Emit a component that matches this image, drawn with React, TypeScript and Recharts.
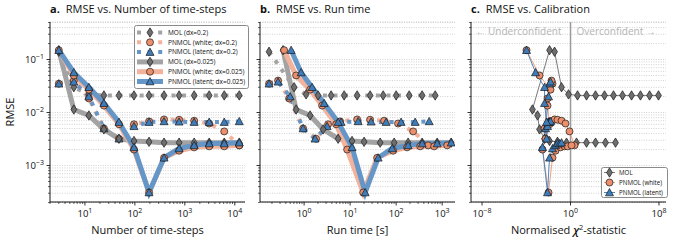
import React from "react";
import { LineChart, Line, XAxis, YAxis, CartesianGrid, Legend, ReferenceLine } from "recharts";

// number of time-steps, same for every run
const steps = [3, 6, 12, 24, 48, 96, 192, 384, 768, 1536, 3072, 6144, 12288];

// RMSE per run (coarse = dx 0.2, fine = dx 0.025)
const rmseMolCoarse = [0.14, 0.03, 0.022, 0.021, 0.021, 0.021, 0.021, 0.021, 0.021, 0.021, 0.021, 0.021, 0.021];
const rmseWhiteCoarse = [0.035, 0.04, 0.0184, 0.005, 0.0032, 0.006, 0.0068, 0.0074, 0.0073, 0.007, 0.0062, 0.0044, 0.0024];
const rmseLatentCoarse = [0.035, 0.038, 0.02, 0.005, 0.0032, 0.0055, 0.0066, 0.0068, 0.0067, 0.0066, 0.0066, 0.0066, 0.0068];
const rmseMolFine = [0.15, 0.0114, 0.0088, 0.0048, 0.0032, 0.0029, 0.0028, 0.0027, 0.0027, 0.0027, 0.0027, 0.0027, 0.0027];
const rmseWhiteFine = [0.15, 0.05, 0.027, 0.0135, 0.006, 0.002, 0.00031, 0.0014, 0.0019, 0.0022, 0.0023, 0.0023, 0.0024];
const rmseLatentFine = [0.15, 0.057, 0.03, 0.015, 0.0066, 0.0022, 0.00031, 0.0014, 0.0021, 0.0024, 0.0026, 0.0026, 0.0027];

// run time [s]
const timeMolCoarse = [0.173, 0.606, 1.105, 2.01, 3.86, 7.41, 14.2, 27.2, 52.2, 100, 192, 367, 705];
const timeWhiteCoarse = [0.173, 0.272, 0.472, 0.951, 1.82, 3.32, 6.06, 14.2, 27.2, 54.8, 110, 234, 496];
const timeLatentCoarse = [0.173, 0.272, 0.496, 0.951, 1.73, 3.16, 6.37, 14.9, 28.6, 60.6, 128, 259, 522];
const timeMolFine = [0.349, 0.67, 1.35, 2.59, 5.48, 11.0, 20.1, 44.9, 90.5, 182, 367, 778, 1570];
const timeWhiteFine = [0.367, 0.67, 1.35, 2.46, 4.96, 8.61, 19.2, 38.6, 86.0, 173, 333, 670, 1285];
const timeLatentFine = [0.522, 0.861, 1.49, 2.72, 5.48, 11.0, 21.2, 40.6, 81.8, 182, 367, 778, 1570];

// normalised chi2 statistic
const chiMolCoarse = [0.036, 0.154, 0.66, 4.3, 28, 182, 1180, 7700, 5e4, 3.3e5, 2.1e6, 1.4e7, 9e7];
const chiWhiteCoarse = [0.0235, 0.019, 0.0083, 0.0045, 0.0055, 0.0083, 0.019, 0.036, 0.066, 0.154, 0.35, 0.81, 2.3];
const chiLatentCoarse = [0.0126, 0.0155, 0.0102, 0.0055, 0.0068, 0.0083, 0.0102, 0.0126, 0.0102, 0.0102, 0.0126, 0.0126, 0.0155];
const chiMolFine = [0.0126, 3.6e-4, 1.04e-3, 1.58e-3, 4.5e-3, 0.0126, 0.066, 0.435, 3.5, 28, 182, 1450, 1.17e4];
const chiWhiteFine = [1.05e-4, 1.58e-3, 0.0155, 0.0083, 0.0126, 0.0029, 0.0102, 0.0235, 0.044, 0.125, 0.288, 0.535, 1.23];
const chiLatentFine = [1.05e-4, 6.9e-4, 0.0045, 0.0045, 0.0068, 0.0029, 0.0083, 0.0126, 0.0235, 0.044, 0.066, 0.102, 0.154];

// ticks
const yMajor = [0.001, 0.01, 0.1];
const yMajorExp = ["\u22123", "\u22122", "\u22121"];
const yMinor = [2e-4, 3e-4, 4e-4, 5e-4, 6e-4, 7e-4, 8e-4, 9e-4, 0.002, 0.003, 0.004, 0.005, 0.006, 0.007, 0.008, 0.009,
  0.02, 0.03, 0.04, 0.05, 0.06, 0.07, 0.08, 0.09, 0.2, 0.3, 0.4, 0.5];
const stepsMajor = [10, 100, 1000, 10000];
const stepsMajorExp = ["1", "2", "3", "4"];
const stepsMinor = [2, 3, 4, 5, 6, 7, 8, 9, 20, 30, 40, 50, 60, 70, 80, 90, 200, 300, 400, 500, 600, 700, 800, 900,
  2000, 3000, 4000, 5000, 6000, 7000, 8000, 9000];
const timeMajor = [1, 10, 100, 1000];
const timeMajorExp = ["0", "1", "2", "3"];
const timeMinor = [0.2, 0.3, 0.4, 0.5, 0.6, 0.7, 0.8, 0.9, 2, 3, 4, 5, 6, 7, 8, 9, 20, 30, 40, 50, 60, 70, 80, 90,
  200, 300, 400, 500, 600, 700, 800, 900];
const chiMajor = [1e-8, 1, 1e8];
const chiMajorExp = ["\u22128", "0", "8"];

const Y_DOMAIN = [2.05e-4, 0.51];
const STEPS_DOMAIN = [2, 16000];
const TIME_DOMAIN = [0.11, 1900];
const CHI_DOMAIN = [1e-9, 4.3e8];

const GRAY_LINE = "#a3a3a3";
const GRAY_FILL = "#6e6e6e";
const ORANGE_LINE = "#f3b29b";
const ORANGE_FILL = "#ec8f6c";
const BLUE_LINE = "#6596c8";
const BLUE_FILL = "#3f7cba";

const W = 676;
const H = 245;
const PLOT_TOP = 22;
const PLOT_BOTTOM = 202;

type Shape = "diamond" | "circle" | "triangle";

const toPoints = (xs: number[], ys: number[]) => xs.map((x, i) => ({ x, y: ys[i] }));

function Marker({ cx, cy, shape, fill }: { cx: number; cy: number; shape: Shape; fill: string }) {
  const common = { fill, stroke: "#1a1a1a", strokeWidth: 0.7 };
  if (shape === "diamond")
    return <polygon points={`${cx},${cy - 4.7} ${cx + 2.9},${cy} ${cx},${cy + 4.7} ${cx - 2.9},${cy}`} {...common} />;
  if (shape === "triangle")
    return <polygon points={`${cx},${cy - 4} ${cx + 4},${cy + 3.3} ${cx - 4},${cy + 3.3}`} {...common} />;
  return <circle cx={cx} cy={cy} r={3.5} {...common} />;
}

const runs = [
  { label: "MOL (dx=0.2)", shape: "diamond" as Shape, line: GRAY_LINE, fill: GRAY_FILL, dotted: true, rmse: rmseMolCoarse, time: timeMolCoarse, chi: chiMolCoarse, thin: "#7a7a7a" },
  { label: "PNMOL (white; dx=0.2)", shape: "circle" as Shape, line: ORANGE_LINE, fill: ORANGE_FILL, dotted: true, rmse: rmseWhiteCoarse, time: timeWhiteCoarse, chi: chiWhiteCoarse, thin: "#f0a283" },
  { label: "PNMOL (latent; dx=0.2)", shape: "triangle" as Shape, line: BLUE_LINE, fill: BLUE_FILL, dotted: true, rmse: rmseLatentCoarse, time: timeLatentCoarse, chi: chiLatentCoarse, thin: "#4f86bd" },
  { label: "MOL (dx=0.025)", shape: "diamond" as Shape, line: GRAY_LINE, fill: GRAY_FILL, dotted: false, rmse: rmseMolFine, time: timeMolFine, chi: chiMolFine, thin: "#7a7a7a" },
  { label: "PNMOL (white; dx=0.025)", shape: "circle" as Shape, line: ORANGE_LINE, fill: ORANGE_FILL, dotted: false, rmse: rmseWhiteFine, time: timeWhiteFine, chi: chiWhiteFine, thin: "#f0a283" },
  { label: "PNMOL (latent; dx=0.025)", shape: "triangle" as Shape, line: BLUE_LINE, fill: BLUE_FILL, dotted: false, rmse: rmseLatentFine, time: timeLatentFine, chi: chiLatentFine, thin: "#4f86bd" },
];

// order in the calibration panel: methods grouped
const calibOrder = [0, 3, 1, 4, 2, 5];
const calibLegend = [
  { label: "MOL", shape: "diamond" as Shape, fill: GRAY_FILL, thin: "#7a7a7a" },
  { label: "PNMOL (white)", shape: "circle" as Shape, fill: ORANGE_FILL, thin: "#f0a283" },
  { label: "PNMOL (latent)", shape: "triangle" as Shape, fill: BLUE_FILL, thin: "#4f86bd" },
];

const yTicks = [...yMajor, ...yMinor].sort((a, b) => a - b);

function makeYTick(withLabel: boolean) {
  return (props: any) => {
    const { x, y, payload } = props;
    const i = yMajor.indexOf(payload.value);
    const major = i >= 0;
    return (
      <g>
        <line x1={x - (major ? 3.5 : 2)} x2={x} y1={y} y2={y} stroke="#000" strokeWidth={major ? 0.8 : 0.6} />
        {major && withLabel && (
          <text x={x - 6} y={y + 3.4} textAnchor="end" fontSize={9.5} fill="#111">
            10<tspan dy={-4} fontSize={7}>{yMajorExp[i]}</tspan>
          </text>
        )}
      </g>
    );
  };
}

function makeXTick(major: number[], exps: string[]) {
  return (props: any) => {
    const { x, y, payload } = props;
    const i = major.indexOf(payload.value);
    const isMajor = i >= 0;
    return (
      <g>
        <line x1={x} x2={x} y1={y} y2={y + (isMajor ? 3.5 : 2)} stroke="#000" strokeWidth={isMajor ? 0.8 : 0.6} />
        {isMajor && (
          <text x={x} y={y + 15} textAnchor="middle" fontSize={9.5} fill="#111">
            10<tspan dy={-4} fontSize={7}>{exps[i]}</tspan>
          </text>
        )}
      </g>
    );
  };
}

const xTitle = (content: React.ReactNode) => (props: any) => {
  const vb = props.viewBox;
  return (
    <text x={vb.x + vb.width / 2} y={vb.y + 32} textAnchor="middle" fontSize={11} fill="#111">
      {content}
    </text>
  );
};

function LegendA() {
  return (
    <svg width={115} height={64} style={{ display: "block" }}>
      <rect x={0.5} y={0.5} width={114} height={63} rx={2} fill="#fff" fillOpacity={0.85} stroke="#8a8a8a" strokeWidth={1} />
      {runs.map((r, i) => {
        const cy = 7.5 + i * 9.8;
        return (
          <g key={r.label}>
            <line x1={3} x2={29} y1={cy} y2={cy} stroke={r.line} strokeWidth={r.dotted ? 4 : 5}
              strokeDasharray={r.dotted ? "4 6.6" : undefined} />
            <Marker cx={16} cy={cy} shape={r.shape} fill={r.fill} />
            <text x={34} y={cy + 2.3} fontSize={6.5} fill="#111">{r.label}</text>
          </g>
        );
      })}
    </svg>
  );
}

function LegendC() {
  return (
    <svg width={67} height={31} style={{ display: "block" }}>
      <rect x={0.5} y={0.5} width={66} height={30} rx={2} fill="#fff" fillOpacity={0.85} stroke="#8a8a8a" strokeWidth={1} />
      {calibLegend.map((r, i) => {
        const cy = 5.5 + i * 10;
        return (
          <g key={r.label}>
            <line x1={3} x2={14} y1={cy} y2={cy} stroke={r.thin} strokeWidth={1} />
            <Marker cx={8.5} cy={cy} shape={r.shape} fill={r.fill} />
            <text x={18} y={cy + 2.3} fontSize={6.2} fill="#111">{r.label}</text>
          </g>
        );
      })}
    </svg>
  );
}

function Panel({ left, right, xKey, xDomain, xTicks, xTickRender, xLabel, yLabels, children }: any) {
  return (
    <div style={{ position: "absolute", left: 0, top: 0 }}>
      <LineChart width={W} height={H} margin={{ top: PLOT_TOP, right: W - right, bottom: H - PLOT_BOTTOM - 30, left: yLabels ? 0 : left - 10 }}>
        <CartesianGrid vertical={false} stroke="#c4c4c4" strokeWidth={0.8} strokeDasharray="1 1.4" />
        <XAxis dataKey={xKey} type="number" scale="log" domain={xDomain} allowDataOverflow ticks={xTicks}
          interval={0} tick={xTickRender} tickLine={false} tickSize={0} tickMargin={0} height={30}
          axisLine={{ stroke: "#000", strokeWidth: 0.9 }} label={xLabel} />
        <YAxis dataKey="y" type="number" scale="log" domain={Y_DOMAIN} allowDataOverflow ticks={yTicks}
          interval={0} tick={makeYTick(yLabels)} tickLine={false} tickSize={0} tickMargin={0}
          width={yLabels ? left : 10} axisLine={{ stroke: "#000", strokeWidth: 0.9 }}
          label={yLabels ? (p: any) => (
            <text x={10} y={p.viewBox.y + p.viewBox.height / 2} textAnchor="middle" dy="0.35em" fontSize={11}
              fill="#111" transform={`rotate(-90 10 ${p.viewBox.y + p.viewBox.height / 2})`}>RMSE</text>
          ) : undefined} />
        {children}
      </LineChart>
    </div>
  );
}

function seriesLines(xField: "steps" | "time") {
  return runs.map((r) => (
    <Line key={r.label + xField} data={toPoints(xField === "steps" ? steps : r.time, r.rmse)} dataKey="y"
      type="linear" stroke={r.line} strokeWidth={r.dotted ? 4 : 5} strokeDasharray={r.dotted ? "4 6.6" : undefined}
      isAnimationActive={false} activeDot={false}
      dot={(p: any) => <Marker key={p.index} cx={p.cx} cy={p.cy} shape={r.shape} fill={r.fill} />} />
  ));
}

const titleStyle: React.CSSProperties = { position: "absolute", top: 2, fontSize: 11, lineHeight: "14px", color: "#111", whiteSpace: "nowrap" };

export default function App() {
  return (
    <div style={{ position: "absolute", left: 0, top: 0, width: W, height: H, background: "#fff", fontFamily: "'Open Sans', sans-serif", overflow: "hidden" }}>
      <Panel left={50} right={245} xKey="x" xDomain={STEPS_DOMAIN} xTicks={[...stepsMajor, ...stepsMinor]}
        xTickRender={makeXTick(stepsMajor, stepsMajorExp)} xLabel={xTitle("Number of time-steps")} yLabels>
        {seriesLines("steps")}
        <Legend layout="vertical" align="center" verticalAlign="middle" content={() => <LegendA />}
          wrapperStyle={{ left: 134, top: 25, width: 115, height: 64 }} />
      </Panel>
      <Panel left={260} right={455} xKey="x" xDomain={TIME_DOMAIN} xTicks={[...timeMajor, ...timeMinor]}
        xTickRender={makeXTick(timeMajor, timeMajorExp)} xLabel={xTitle("Run time [s]")} yLabels={false}>
        {seriesLines("time")}
      </Panel>
      <Panel left={471} right={666} xKey="x" xDomain={CHI_DOMAIN} xTicks={chiMajor}
        xTickRender={makeXTick(chiMajor, chiMajorExp)}
        xLabel={xTitle(<>Normalised <tspan fontStyle="italic" fontWeight={600}>χ</tspan><tspan dy={-4.5} fontSize={7.5}>2</tspan><tspan dy={4.5}>-statistic</tspan></>)}
        yLabels={false}>
        <ReferenceLine x={1} stroke="#9a9a9a" strokeWidth={1.5}
          label={(p: any) => {
            const vb = p.viewBox;
            return (
              <g fontSize={10} fill="#b3b3b3">
                <text x={vb.x - 9} y={vb.y + 12.5} textAnchor="end">{"\u2190 Underconfident"}</text>
                <text x={vb.x + 6} y={vb.y + 12.5} textAnchor="start">{"Overconfident \u2192"}</text>
              </g>
            );
          }} />
        {calibOrder.map((idx) => {
          const r = runs[idx];
          return (
            <Line key={"c" + r.label} data={toPoints(r.chi, r.rmse)} dataKey="y" type="linear" stroke={r.thin}
              strokeWidth={1} isAnimationActive={false} activeDot={false}
              dot={(p: any) => <Marker key={p.index} cx={p.cx} cy={p.cy} shape={r.shape} fill={r.fill} />} />
          );
        })}
        <Legend layout="vertical" align="center" verticalAlign="middle" content={() => <LegendC />}
          wrapperStyle={{ left: 601, top: 167, width: 67, height: 31 }} />
      </Panel>
      <div style={{ ...titleStyle, left: 50 }}><b>a.</b><span style={{ marginLeft: 6 }}>RMSE vs. Number of time-steps</span></div>
      <div style={{ ...titleStyle, left: 260 }}><b>b.</b><span style={{ marginLeft: 6 }}>RMSE vs. Run time</span></div>
      <div style={{ ...titleStyle, left: 471 }}><b>c.</b><span style={{ marginLeft: 6 }}>RMSE vs. Calibration</span></div>
    </div>
  );
}
